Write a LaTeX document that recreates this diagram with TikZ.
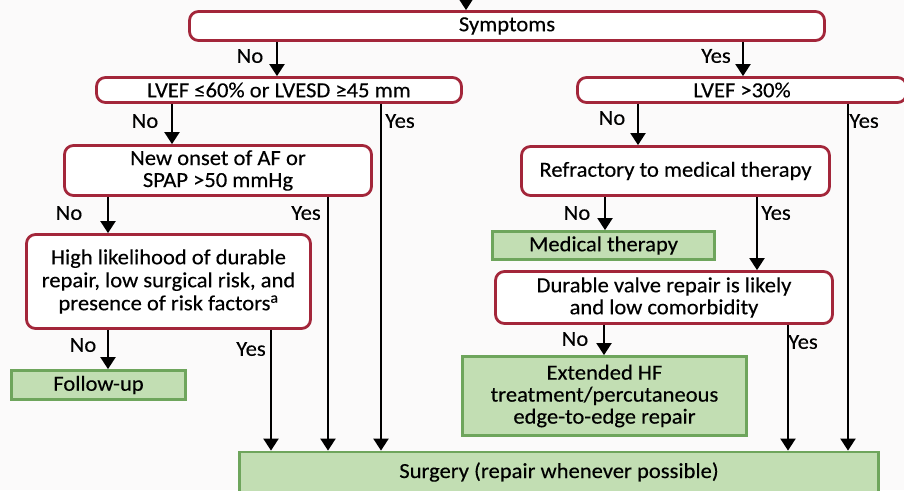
\documentclass[tikz,border=0pt]{standalone}
\usepackage{fontspec}
\setmainfont{Carlito}[FakeStretch=1.05,FakeBold=0.3]
\usetikzlibrary{arrows.meta}
\definecolor{boxred}{HTML}{A3263A}
\definecolor{gfill}{HTML}{C2DEB3}
\definecolor{gline}{HTML}{6EA55C}
\definecolor{bg}{HTML}{FBFAFA}
\begin{document}
\begin{tikzpicture}[x=1pt,y=-1pt,
 txt/.style={font=\fontsize{21.5}{22}\selectfont},
 dec/.style={draw=boxred, line width=2.8pt, rounded corners=9pt, fill=white, align=center, inner sep=0pt, txt},
 res/.style={draw=gline, line width=2.8pt, fill=gfill, align=center, inner sep=0pt, txt},
 arr/.style={line width=2pt, -{Triangle[width=15pt,length=12pt]}},
 lab/.style={txt, inner sep=0pt}]
\useasboundingbox (0,0) rectangle (904,490);
\fill[bg] (0,0) rectangle (904,490);
\clip (0,0) rectangle (904,490);
% boxes
\node[dec, minimum width=635pt, minimum height=29pt] (sym) at (507,26) {Symptoms};
\node[dec, minimum width=365pt, minimum height=25pt] (lvA) at (279,90) {LVEF ≤60\% or LVESD ≥45 mm};
\node[dec, minimum width=329pt, minimum height=25pt] (lvB) at (742,90) {LVEF >30\%};
\node[dec, minimum width=307pt, minimum height=50pt] (new) at (218,170.5) {New onset of AF or\\SPAP >50 mmHg};
\node[dec, minimum width=308pt, minimum height=49pt] (ref) at (675.5,171) {Refractory to medical therapy};
\node[dec, minimum width=284pt, minimum height=94pt] (high) at (168.5,281.5) {High likelihood of durable\\[1pt]repair, low surgical risk, and\\[1pt]presence of risk factors\textsuperscript{a}};
\node[res, minimum width=222pt, minimum height=28pt] (med) at (603.5,245.5) {Medical therapy};
\node[dec, minimum width=337pt, minimum height=52pt] (dur) at (664,297.5) {Durable valve repair is likely\\and low comorbidity};
\node[res, minimum width=174pt, minimum height=29pt] (fol) at (98.5,385) {Follow-up};
\node[res, minimum width=284pt, minimum height=79pt] (ext) at (604.5,396) {Extended HF\\treatment/percutaneous\\edge-to-edge repair};
\node[res, minimum width=639pt, minimum height=40pt] (surg) at (559,472) {Surgery (repair whenever possible)};
% x positions
\coordinate (top) at (466,-5);
\foreach \n/\x in {a/277,b/743,c/172,d/381,e/108,f/328,g/271,h/638,i/848,j/605,k/757,l/604,m/788}
  \coordinate (x\n) at (\x,0);
% arrows
\draw[arr] (top) -- (sym.north -| top);
\draw[arr] (sym.south -| xa) -- (lvA.north -| xa);
\draw[arr] (sym.south -| xb) -- (lvB.north -| xb);
\draw[arr] (lvA.south -| xc) -- (new.north -| xc);
\draw[arr] (lvA.south -| xd) -- (surg.north -| xd);
\draw[arr] (new.south -| xe) -- (high.north -| xe);
\draw[arr] (new.south -| xf) -- (surg.north -| xf);
\draw[arr] (high.south -| xe) -- (fol.north -| xe);
\draw[arr] (high.south -| xg) -- (surg.north -| xg);
\draw[arr] (lvB.south -| xh) -- (ref.north -| xh);
\draw[arr] (lvB.south -| xi) -- (surg.north -| xi);
\draw[arr] (ref.south -| xj) -- (med.north -| xj);
\draw[arr] (ref.south -| xk) -- (dur.north -| xk);
\draw[arr] (dur.south -| xl) -- (ext.north -| xl);
\draw[arr] (dur.south -| xm) -- (surg.north -| xm);
% labels
\node[lab] (l1) at (250,56) {No};
\node[lab] (l2) at (716,56) {Yes};
\node[lab] (l3) at (145,121) {No};
\node[lab] (l4) at (400,121) {Yes};
\node[lab] (l5) at (69,213) {No};
\node[lab] (l6) at (306,213) {Yes};
\node[lab] (l7) at (83,345) {No};
\node[lab] (l8) at (251,349) {Yes};
\node[lab] (l9) at (612,118) {No};
\node[lab] (l10) at (864,121) {Yes};
\node[lab] (l11) at (577,213) {No};
\node[lab] (l12) at (776,213) {Yes};
\node[lab] (l13) at (575,339) {No};
\node[lab] (l14) at (803,342) {Yes};
\end{tikzpicture}
\end{document}
